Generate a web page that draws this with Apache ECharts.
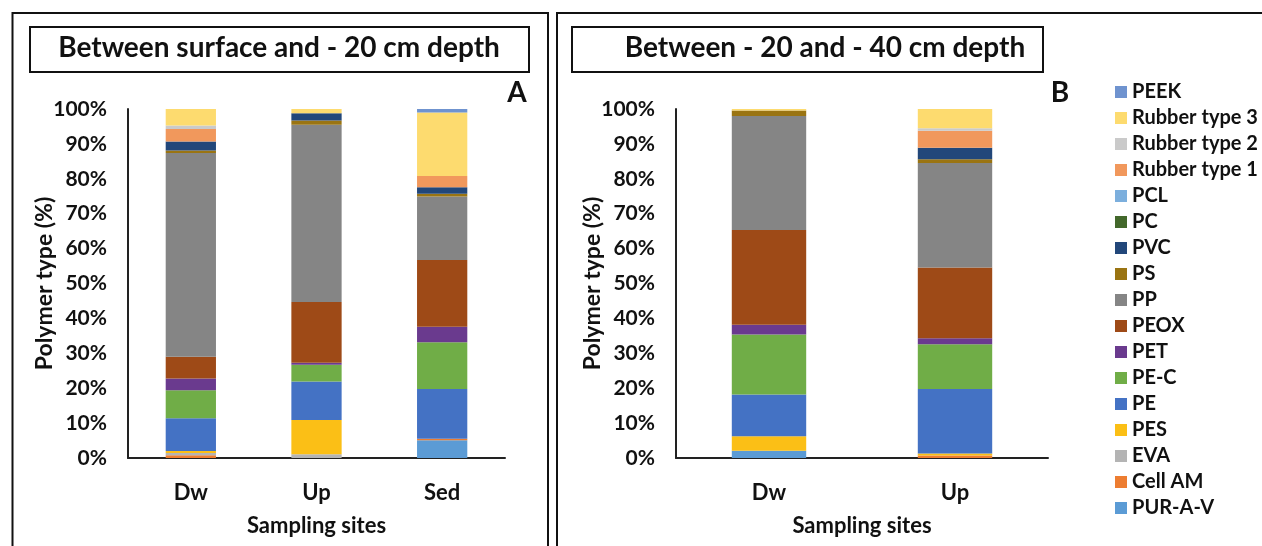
<!DOCTYPE html>
<html lang="en">
<head>
    <meta charset="UTF-8">
    <title>Polymer type</title>
    <style>
        html,body{margin:0;padding:0;background:#fff;}
        #chart{width:1262px;height:546px;}
    </style>
</head>
<body>
<div id="chart"></div>
<script src="https://cdn.jsdelivr.net/npm/echarts@6/dist/echarts.min.js"></script>
<script>
    // stack order, bottom to top
    const polymers = ['PUR-A-V','Cell AM','EVA','PES','PE','PE-C','PET','PEOX','PP','PS','PVC','PC','PCL','Rubber type 1','Rubber type 2','Rubber type 3','PEEK'];
    const colors = ['#5B9BD5','#ED7D31','#B4B4B4','#FBBF16','#4472C4','#70AD47','#6A3A8E','#9E4A17','#858585','#9A7412','#22477A','#43682B','#7CAFDD','#F1985C','#CACACA','#FDDB6F','#6F93CF'];

    const sitesA = ['Dw','Up','Sed'];
    const sitesB = ['Dw','Up'];

    // % per polymer, same order as polymers
    const surfaceDw  = [0,0.8,0.6,0.6,9.4,8.0,3.4,6.2,58.4,0.7,2.6,0,0,3.6,1.0,4.8,0];
    const surfaceUp  = [0,0,1.1,9.8,11.0,4.8,0.6,17.4,50.8,1.2,2.1,0,0,0,0,1.2,0];
    const surfaceSed = [5.1,0.4,0,0,14.3,13.4,4.4,19.1,18.2,0.8,1.9,0,0,3.2,0,18.2,1.0];
    const deepDw     = [2.1,0,0,4.1,12.0,17.2,2.8,27.1,32.7,1.6,0,0,0,0,0,0.4,0];
    const deepUp     = [0,0.7,0,0.6,18.5,12.8,1.7,20.3,29.9,1.1,3.3,0,0,4.9,0.7,5.5,0];

    const font = 'Lato';
    const ink = '#111';

    let myChart = echarts.init(document.getElementById('chart'));

    function yAxis(idx){
        return {
            gridIndex: idx,
            type: 'value',
            min: 0,
            max: 100,
            interval: 10,
            axisLine: {show: true, lineStyle: {color: '#222', width: 2}},
            axisTick: {show: false},
            splitLine: {show: false},
            axisLabel: {formatter: '{value}%', fontSize: 21, fontWeight: 'bold', color: ink, fontFamily: font, margin: 21},
            name: 'Polymer type (%)',
            nameLocation: 'middle',
            nameGap: 72,
            nameMoveOverlap: false,
            nameTextStyle: {fontSize: 23, fontWeight: 'bold', color: ink, fontFamily: font}
        };
    }
    function xAxis(idx, data){
        return {
            gridIndex: idx,
            type: 'category',
            data: data,
            axisLine: {show: true, lineStyle: {color: '#222', width: 2}},
            axisTick: {show: false},
            axisLabel: {fontSize: 22, fontWeight: 'bold', color: ink, fontFamily: font, margin: 24},
            name: 'Sampling sites',
            nameLocation: 'middle',
            nameGap: 57,
            nameTextStyle: {fontSize: 22, fontWeight: 'bold', color: ink, fontFamily: font}
        };
    }

    let series = [];
    polymers.forEach(function(p, i){
        series.push({
            name: p, type: 'bar', stack: 'a', xAxisIndex: 0, yAxisIndex: 0,
            barWidth: '40%',
            itemStyle: {color: colors[i]},
            data: [surfaceDw[i], surfaceUp[i], surfaceSed[i]]
        });
        series.push({
            name: p, type: 'bar', stack: 'b', xAxisIndex: 1, yAxisIndex: 1,
            barWidth: '40%',
            itemStyle: {color: colors[i]},
            data: [deepDw[i], deepUp[i]]
        });
    });

    function box(x, y, w, h){
        return {type: 'rect', shape: {x: x, y: y, width: w, height: h},
            style: {fill: 'none', stroke: '#111', lineWidth: 2}, silent: true};
    }
    function label(text, x, y, size){
        return {type: 'text', x: x, y: y,
            style: {text: text, fill: ink, font: 'bold ' + size + 'px ' + font, textAlign: 'center', textVerticalAlign: 'middle'}};
    }

    let option = {
        animation: false,
        backgroundColor: '#fff',
        legend: {
            data: polymers.slice().reverse(),
            orient: 'vertical',
            left: 1110,
            top: 77,
            icon: 'rect',
            itemWidth: 12,
            itemHeight: 12,
            itemGap: 6,
            textStyle: {fontSize: 20, fontWeight: 'bold', color: ink, fontFamily: font, lineHeight: 14}
        },
        grid: [
            {left: 128, top: 109, width: 377, height: 349},
            {left: 676, top: 109, width: 372, height: 349}
        ],
        xAxis: [xAxis(0, sitesA), xAxis(1, sitesB)],
        yAxis: [yAxis(0), yAxis(1)],
        series: series,
        graphic: [
            box(12.5, 13, 535.5, 600),
            box(557, 13, 760, 600),
            box(30, 27, 499, 45),
            box(572, 27, 471, 45),
            label('Between surface and - 20 cm depth', 279, 48, 28),
            label('Between - 20 and - 40 cm depth', 825, 48, 28),
            label('A', 517, 93, 28),
            label('B', 1060, 93, 28)
        ]
    };
    myChart.setOption(option);
</script>
</body>
</html>
